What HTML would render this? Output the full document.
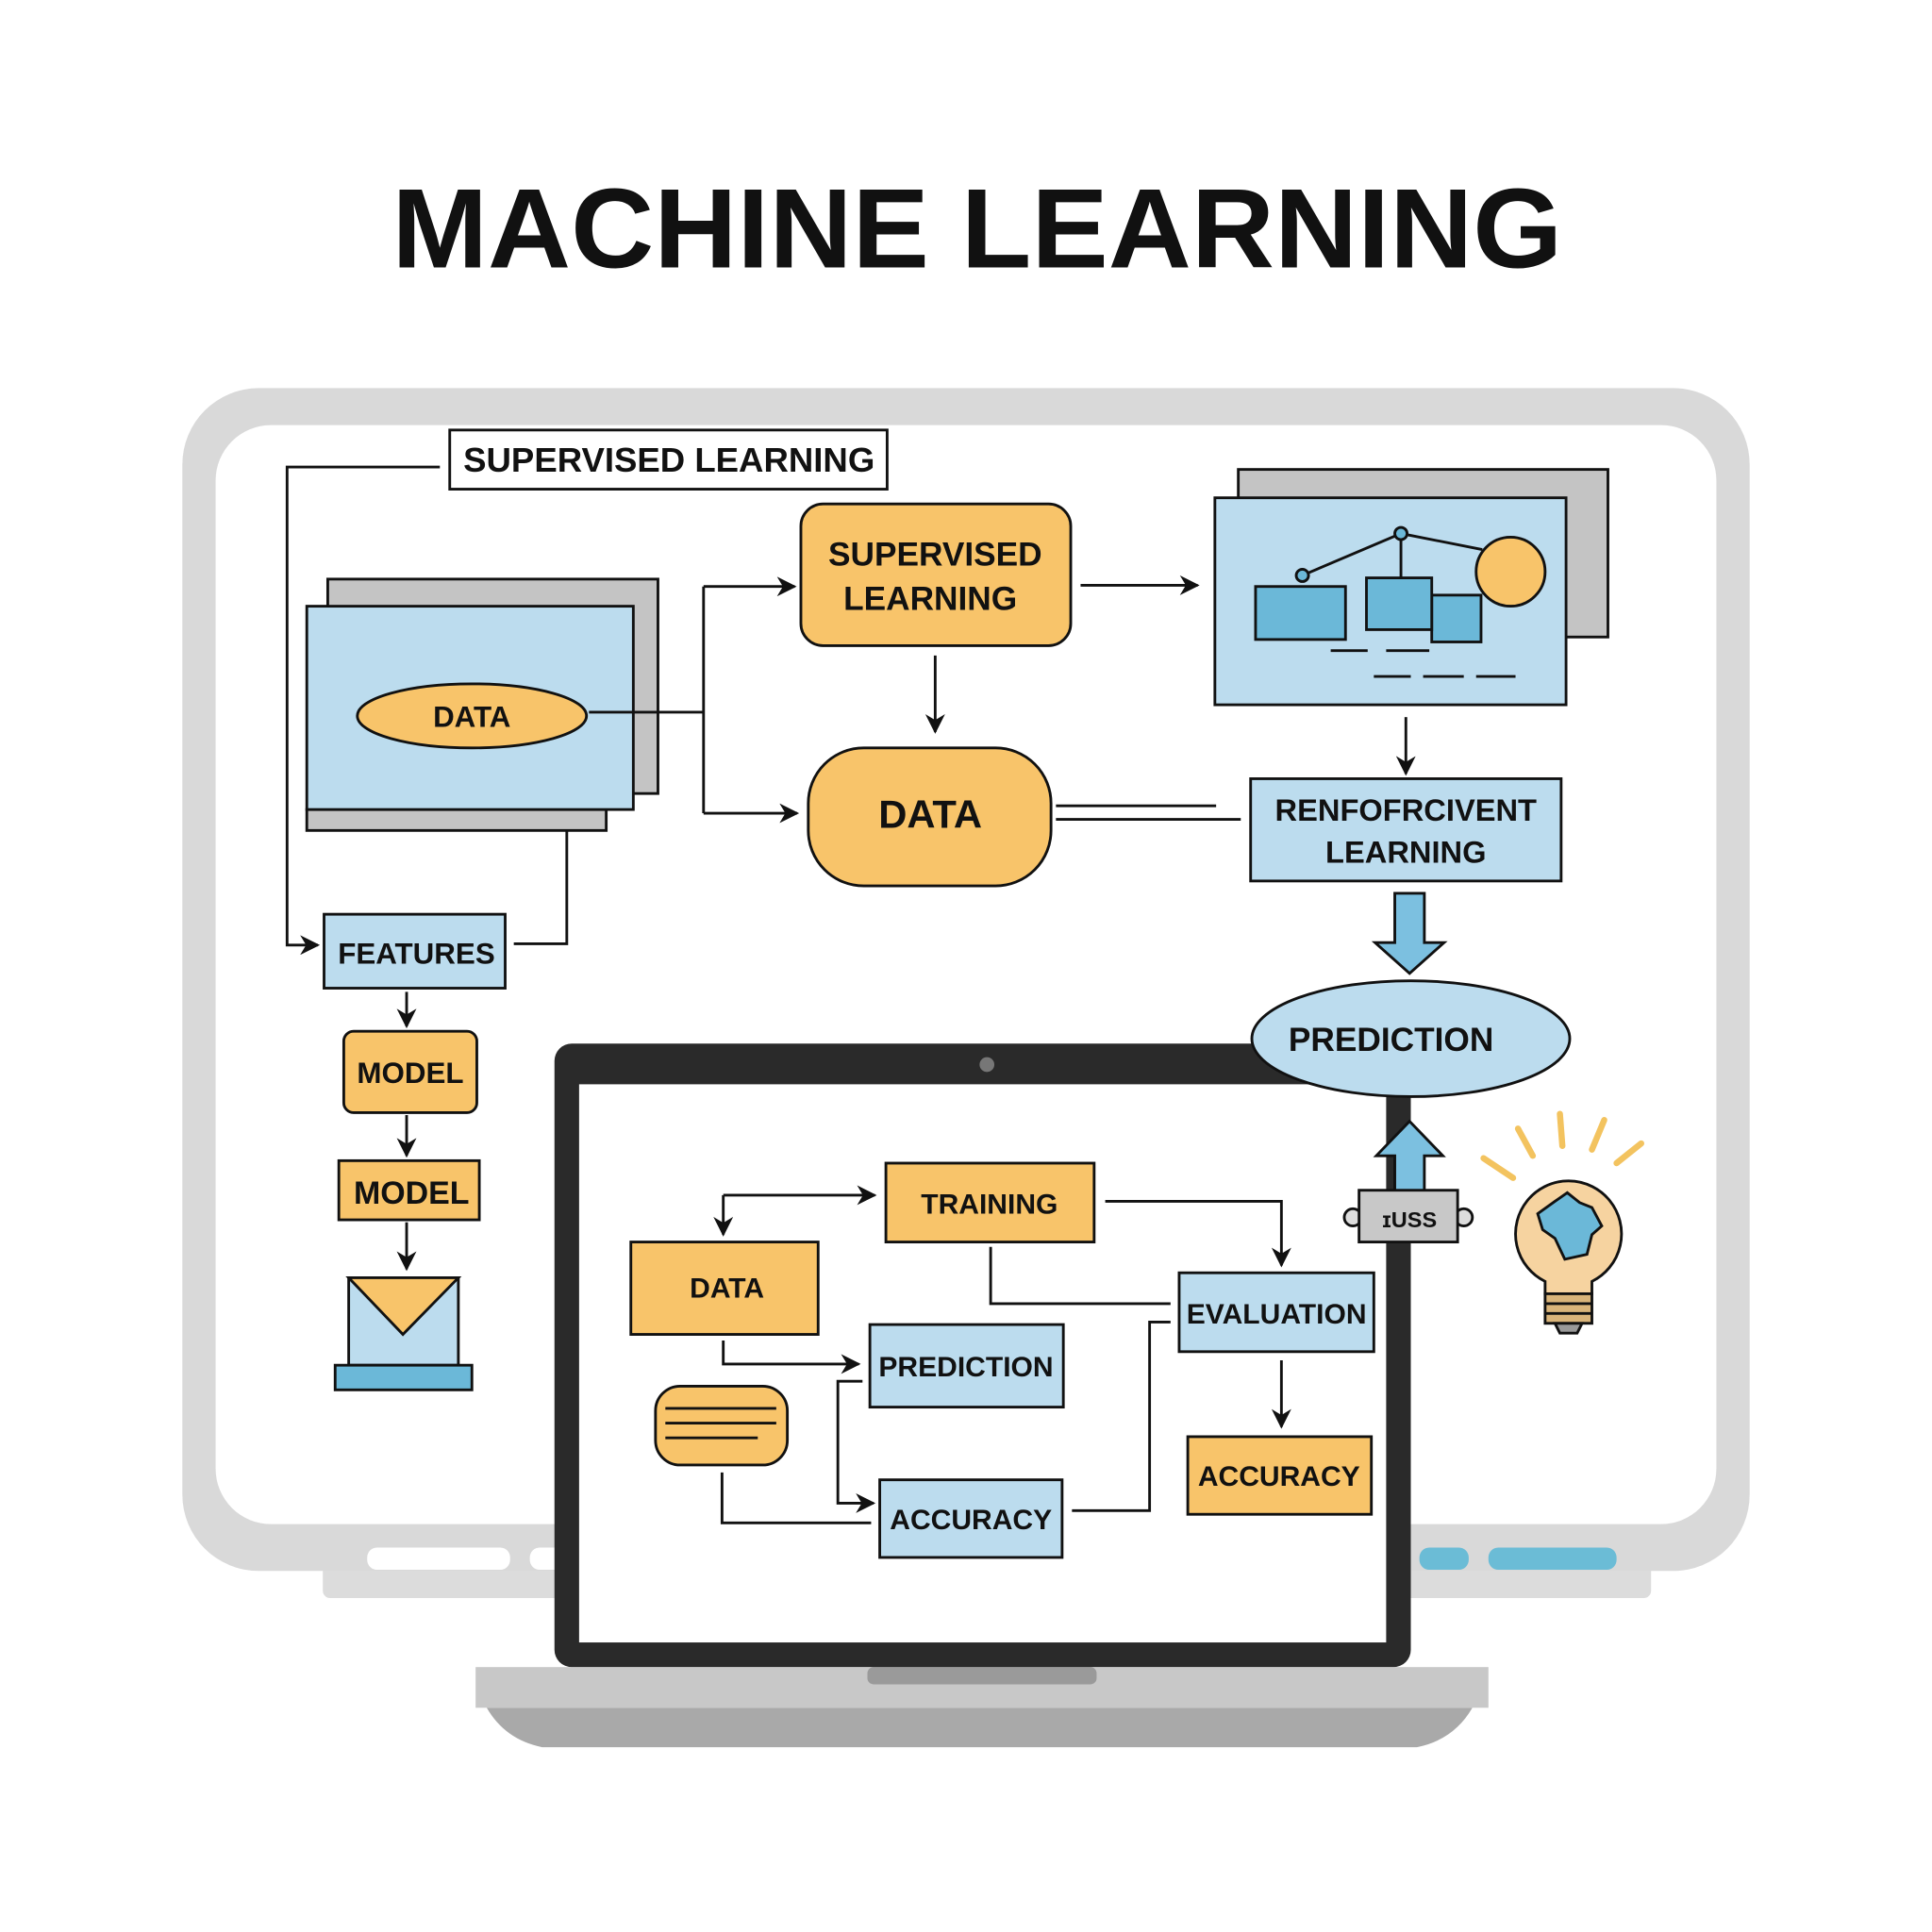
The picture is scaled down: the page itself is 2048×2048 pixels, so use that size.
<!DOCTYPE html>
<html><head><meta charset="utf-8"><style>
html,body{margin:0;padding:0;background:#fff;}
svg{display:block;}
text{font-family:"Liberation Sans",Arial,sans-serif;font-weight:bold;fill:#111;text-anchor:middle;}
</style></head><body>
<svg width="2048" height="2048" viewBox="0 0 1568 1568" xmlns="http://www.w3.org/2000/svg">
<defs>
<marker id="ah2" viewBox="0 0 10 10" refX="9" refY="5" markerWidth="16" markerHeight="16" orient="auto" markerUnits="userSpaceOnUse"><path d="M0,0 L10,5 L0,10 L3,5 z" fill="#111"/></marker>
</defs>
<rect width="1568" height="1568" fill="#fff"/>
<text x="793" y="217" font-size="92" textLength="950" lengthAdjust="spacingAndGlyphs">MACHINE LEARNING</text>

<!-- monitor -->
<rect x="262" y="1262" width="1078" height="35" rx="6" fill="#dcdcdc"/>
<rect x="148" y="315" width="1272" height="960" rx="62" fill="#d9d9d9"/>
<rect x="175" y="345" width="1218" height="892" rx="45" fill="#fff"/>
<rect x="298" y="1256" width="116" height="18" rx="8" fill="#fff"/>
<rect x="430" y="1256" width="30" height="18" rx="8" fill="#fff"/>
<rect x="1152" y="1256" width="40" height="18" rx="8" fill="#6bbcd6"/>
<rect x="1208" y="1256" width="104" height="18" rx="8" fill="#6bbcd6"/>

<!-- laptop -->
<path d="M395,1386 L1195,1386 Q1180,1412 1150,1418 L440,1418 Q410,1412 395,1386 z" fill="#a9a9a9"/>
<rect x="386" y="1353" width="822" height="33" fill="#c8c8c8"/>
<rect x="704" y="1353" width="186" height="14" rx="5" fill="#9a9a9a"/>
<rect x="450" y="847" width="695" height="506" rx="14" fill="#2a2a2a"/>
<rect x="470" y="880" width="655" height="453" fill="#fff"/>
<circle cx="801" cy="864" r="6" fill="#777"/>

<g stroke="#111" stroke-width="2.2" fill="none">
<rect x="365" y="349" width="355" height="48" fill="#fff"/>
<polyline points="357,379 233,379 233,767 258,767" marker-end="url(#ah2)"/>
<rect x="266" y="470" width="268" height="174" fill="#c4c4c4"/>
<rect x="249" y="657" width="243" height="17" fill="#c4c4c4"/>
<rect x="249" y="492" width="265" height="165" fill="#bcdcee"/>
<ellipse cx="383" cy="581" rx="93" ry="26" fill="#f8c46a"/>
<polyline points="478,578 571,578"/>
<polyline points="571,476 571,660"/>
<line x1="571" y1="476" x2="645" y2="476" marker-end="url(#ah2)"/>
<line x1="571" y1="660" x2="647" y2="660" marker-end="url(#ah2)"/>
<rect x="650" y="409" width="219" height="115" rx="18" fill="#f8c46a"/>
<line x1="877" y1="475" x2="972" y2="475" marker-end="url(#ah2)"/>
<line x1="759" y1="532" x2="759" y2="594" marker-end="url(#ah2)"/>
<rect x="656" y="607" width="197" height="112" rx="45" fill="#f8c46a"/>
<line x1="857" y1="654" x2="987" y2="654"/>
<line x1="857" y1="665" x2="1007" y2="665"/>
<rect x="1005" y="381" width="300" height="136" fill="#c4c4c4"/>
<rect x="986" y="404" width="285" height="168" fill="#bcdcee"/>
<rect x="1019" y="476" width="73" height="43" fill="#6bb8d8"/>
<rect x="1162" y="483" width="40" height="38" fill="#6bb8d8"/>
<rect x="1109" y="469" width="53" height="42" fill="#6bb8d8"/>
<polyline points="1057,467 1137,433 1203,446"/>
<line x1="1137" y1="433" x2="1137" y2="469"/>
<circle cx="1226" cy="464" r="28" fill="#f8c46a"/>
<circle cx="1057" cy="467" r="5" fill="#6bb8d8"/>
<circle cx="1137" cy="433" r="5" fill="#6bb8d8"/>
<line x1="1080" y1="528" x2="1110" y2="528"/><line x1="1125" y1="528" x2="1160" y2="528"/>
<line x1="1115" y1="549" x2="1145" y2="549"/><line x1="1155" y1="549" x2="1188" y2="549"/><line x1="1198" y1="549" x2="1230" y2="549"/>
<line x1="1141" y1="582" x2="1141" y2="628" marker-end="url(#ah2)"/>
<rect x="1015" y="632" width="252" height="83" fill="#bcdcee"/>
<path d="M1132,725 L1156,725 L1156,765 L1172,765 L1144,790 L1116,765 L1132,765 z" fill="#7cc0e0"/>
<rect x="263" y="742" width="147" height="60" fill="#bcdcee"/>
<polyline points="417,766 460,766 460,674"/>
<line x1="330" y1="805" x2="330" y2="833" marker-end="url(#ah2)"/>
<rect x="279" y="837" width="108" height="66" rx="8" fill="#f8c46a"/>
<line x1="330" y1="905" x2="330" y2="938" marker-end="url(#ah2)"/>
<rect x="275" y="942" width="114" height="48" fill="#f8c46a"/>
<line x1="330" y1="992" x2="330" y2="1030" marker-end="url(#ah2)"/>
<rect x="283" y="1037" width="89" height="71" fill="#bcdcee"/>
<path d="M283,1037 L372,1037 L327,1083 z" fill="#f8c46a"/>
<rect x="272" y="1108" width="111" height="20" fill="#6bb8d8"/>
<rect x="719" y="944" width="169" height="64" fill="#f8c46a"/>
<rect x="512" y="1008" width="152" height="75" fill="#f8c46a"/>
<rect x="706" y="1075" width="157" height="67" fill="#bcdcee"/>
<rect x="714" y="1201" width="148" height="63" fill="#bcdcee"/>
<rect x="957" y="1033" width="158" height="64" fill="#bcdcee"/>
<rect x="964" y="1166" width="149" height="63" fill="#f8c46a"/>
<rect x="532" y="1125" width="107" height="64" rx="20" fill="#f8c46a"/>
<line x1="540" y1="1143" x2="630" y2="1143"/><line x1="540" y1="1155" x2="630" y2="1155"/><line x1="540" y1="1167" x2="615" y2="1167"/>
<polyline points="587,970 710,970" marker-end="url(#ah2)"/>
<polyline points="587,970 587,1002" marker-end="url(#ah2)"/>
<polyline points="897,975 1040,975 1040,1027" marker-end="url(#ah2)"/>
<polyline points="804,1012 804,1058 950,1058"/>
<polyline points="587,1088 587,1107 697,1107" marker-end="url(#ah2)"/>
<polyline points="700,1121 680,1121 680,1220 709,1220" marker-end="url(#ah2)"/>
<polyline points="586,1195 586,1236 707,1236"/>
<polyline points="870,1226 933,1226 933,1073 950,1073"/>
<line x1="1040" y1="1104" x2="1040" y2="1158" marker-end="url(#ah2)"/>
<ellipse cx="1145" cy="843" rx="129" ry="47" fill="#bcdcee"/>
<path d="M1144,910 L1171,938 L1156,938 L1156,967 L1132,967 L1132,938 L1117,938 z" fill="#7cc0e0"/>
<circle cx="1098" cy="988" r="7" fill="#ddd"/>
<circle cx="1188" cy="988" r="7" fill="#ddd"/>
<rect x="1103" y="966" width="80" height="42" fill="#c8c8c8"/>
<path d="M1254,1040 A43,43 0 1 1 1292,1040 L1292,1050 L1254,1050 z" fill="#f6d3a0"/>
<rect x="1254" y="1050" width="38" height="24" fill="#d9b47a"/>
<line x1="1254" y1="1058" x2="1292" y2="1058"/><line x1="1254" y1="1066" x2="1292" y2="1066"/>
<path d="M1262,1074 L1284,1074 L1280,1082 L1266,1082 z" fill="#999"/>
<path d="M1262,975 L1272,968 L1282,976 L1292,980 L1300,995 L1292,1002 L1288,1018 L1270,1022 L1262,1005 L1252,998 L1248,985 z" fill="#6bb8d8"/>
</g>
<g stroke="#f3c35f" stroke-width="5" stroke-linecap="round">
<line x1="1204" y1="940" x2="1228" y2="956"/><line x1="1232" y1="916" x2="1244" y2="938"/>
<line x1="1266" y1="904" x2="1268" y2="930"/><line x1="1302" y1="909" x2="1292" y2="933"/>
<line x1="1332" y1="928" x2="1312" y2="944"/>
</g>

<text x="543" y="383" font-size="28">SUPERVISED LEARNING</text>
<text x="383" y="590" font-size="24">DATA</text>
<text x="759" y="459" font-size="27">SUPERVISED</text>
<text x="755" y="495" font-size="27">LEARNING</text>
<text x="755" y="672" font-size="32">DATA</text>
<text x="1141" y="666" font-size="25">RENFOFRCIVENT</text>
<text x="1141" y="700" font-size="25">LEARNING</text>
<text x="1129" y="853" font-size="27">PREDICTION</text>
<text x="338" y="782" font-size="24">FEATURES</text>
<text x="333" y="879" font-size="24">MODEL</text>
<text x="334" y="977" font-size="26">MODEL</text>
<text x="803" y="985" font-size="23">TRAINING</text>
<text x="590" y="1053" font-size="23">DATA</text>
<text x="784" y="1117" font-size="23">PREDICTION</text>
<text x="788" y="1241" font-size="23">ACCURACY</text>
<text x="1036" y="1074" font-size="23">EVALUATION</text>
<text x="1038" y="1206" font-size="23">ACCURACY</text>
<text x="1144" y="996" font-size="18">ɪUSS</text>
</svg>
</body></html>
